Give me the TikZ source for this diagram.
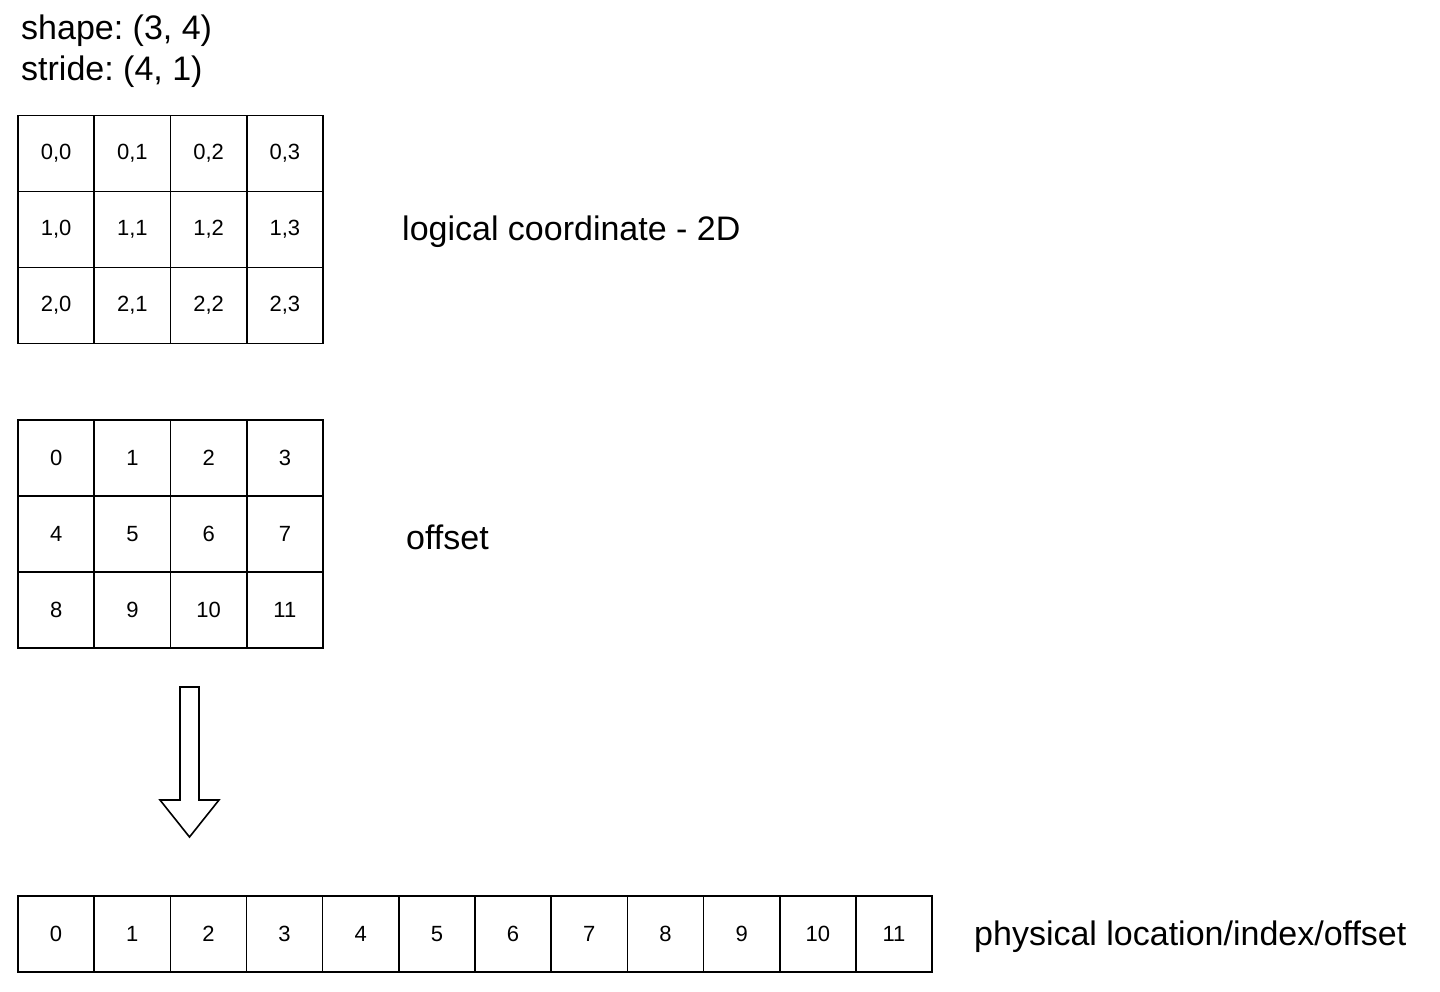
\documentclass[tikz,border=0pt]{standalone}
\usepackage{fontspec}
\setmainfont{Liberation Sans}
\frenchspacing
\begin{document}
\begin{tikzpicture}[x=1pt,y=-1pt,
  cell/.style={draw=black,line width=1.6pt,minimum width=76.25pt,minimum height=76pt,inner sep=0pt,anchor=center,font=\fontsize{22}{26}\selectfont},
  big/.style={font=\fontsize{34}{40}\selectfont,inner sep=0pt},
  blockarrow/.style={draw=black,line width=1.6pt,fill=white,line join=miter}]
\useasboundingbox (0,0) rectangle (1440,992);
% header
\node[big,anchor=base west] (shape) at (21,40) {shape: (3, 4)};
\node[big,anchor=base west] (stride) at (21,81) {stride: (4, 1)};
% logical grid
\foreach \r in {0,1,2}{
  \foreach \c in {0,1,2,3}{
    \node[cell] (l-\r-\c) at ({18+76.25*\c+38.125},{115+76*\r+38.5}) {\r,\c};
  }
}
% offset grid
\foreach \r in {0,1,2}{
  \foreach \c [evaluate=\c as \v using int(4*\r+\c)] in {0,1,2,3}{
    \node[cell] (o-\r-\c) at ({18+76.25*\c+38.125},{420+76*\r+38}) {\v};
  }
}
% physical row
\foreach \c in {0,...,11}{
  \node[cell,minimum width=76.17pt] (p-\c) at ({18+76.17*\c+38.08},{896+75.5/2}) {\c};
}
% labels
\node[big,anchor=west] (lbl1) at (402,232) {logical coordinate - 2D};
\node[big,anchor=west] (lbl2) at (406,537) {offset};
\node[big,anchor=west] (lbl3) at (974,937) {physical location/index/offset};
% block arrow
\coordinate (atop) at (189.5,687);
\coordinate (atip) at (189.5,837);
\draw[blockarrow] (180,687) -- (199,687) -- (199,800) -- (219,800) -- (atip) -- (160,800) -- (180,800) -- cycle;
\end{tikzpicture}
\end{document}
